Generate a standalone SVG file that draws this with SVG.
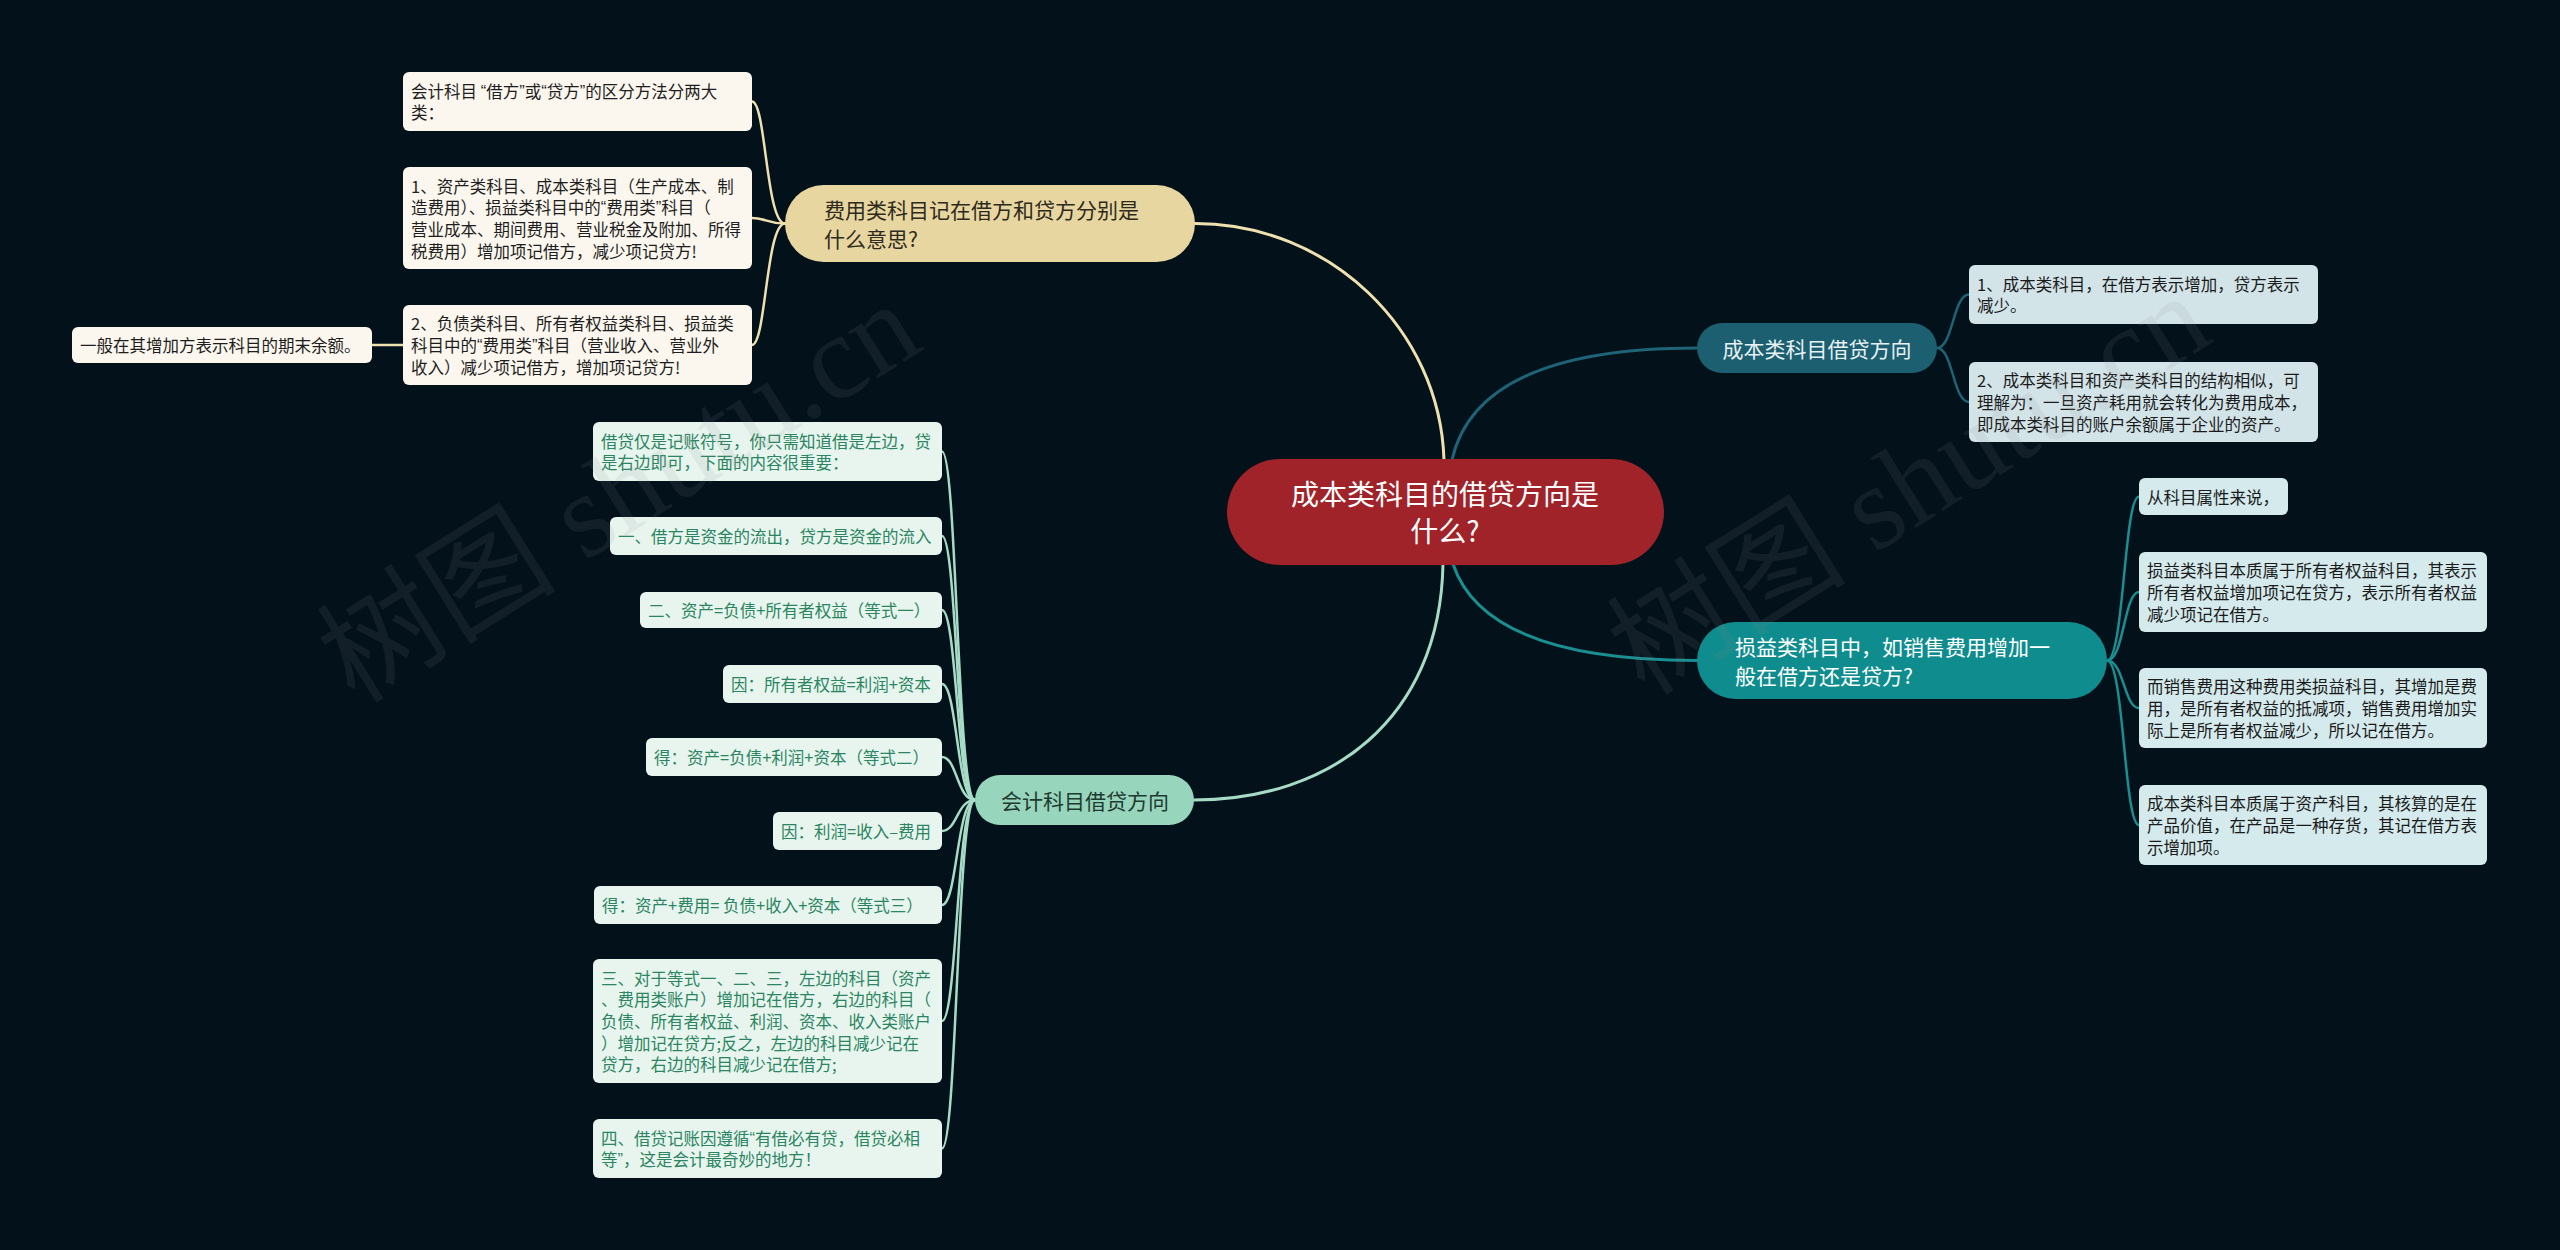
<svg xmlns="http://www.w3.org/2000/svg" width="2560" height="1250" viewBox="0 0 2560 1250">
<style>
text{font-family:"Noto Sans CJK SC","Noto Sans",sans-serif;dominant-baseline:central}
.q{font-family:"Liberation Sans",sans-serif}
.leaf{font-size:16.5px}
.cy{fill:#fbf7ee}.ty{fill:#1e1e1e}
.cg{fill:#e8f5ef}.tg{fill:#2b8561}
.cb{fill:#d3e4e9}.tb{fill:#1b1b1b}
.ct{fill:#d5eaec}.tt{fill:#1b1b1b}
.main{font-size:21px}
.lk{fill:none;stroke-linecap:round}
.wm{font-family:"Liberation Serif","Noto Sans CJK SC",serif;font-size:120px;fill:#8a8a8a;fill-opacity:0.12;dominant-baseline:auto}
</style>
<rect width="2560" height="1250" fill="#03111b"/>
<g id="connectors">
<path class="lk" d="M1444 460 C1440 330,1330 223.5,1195 223.5" stroke="#efe0b0" stroke-width="3"/>
<path class="lk" d="M1452 460 C1470 380,1560 348,1697 348" stroke="#1e6376" stroke-width="3"/>
<path class="lk" d="M1443 564 C1440 720,1330 800,1194 800" stroke="#a6dcc5" stroke-width="3"/>
<path class="lk" d="M1453 564 C1475 630,1560 660.5,1697 660.5" stroke="#1a8f91" stroke-width="3"/>
<g stroke="#efe0b0" stroke-width="2.5" class="lk">
<path d="M785 223.5 C766 223.5,766 101.5,752 101.5"/>
<path d="M785 223.5 C766 223.5,766 218,752 218"/>
<path d="M785 223.5 C766 223.5,766 345,752 345"/>
<path d="M403 345 L372 345"/>
</g>
<g stroke="#a6dcc5" stroke-width="2.5" class="lk">
<path d="M975 800 C957 800,957 451.5,942 451.5"/>
<path d="M975 800 C957 800,957 536,942 536"/>
<path d="M975 800 C957 800,957 610,942 610"/>
<path d="M975 800 C957 800,957 684,942 684"/>
<path d="M975 800 C957 800,957 757,942 757"/>
<path d="M975 800 C957 800,957 831,942 831"/>
<path d="M975 800 C957 800,957 905,942 905"/>
<path d="M975 800 C957 800,957 1021,942 1021"/>
<path d="M975 800 C957 800,957 1148.5,942 1148.5"/>
</g>
<g stroke="#1e6376" stroke-width="2.5" class="lk">
<path d="M1937 348 C1953 348,1953 294.5,1969 294.5"/>
<path d="M1937 348 C1953 348,1953 402,1969 402"/>
</g>
<g stroke="#1a8f91" stroke-width="2.5" class="lk">
<path d="M2107 660.5 C2124 660.5,2124 496.5,2139 496.5"/>
<path d="M2107 660.5 C2124 660.5,2124 592,2139 592"/>
<path d="M2107 660.5 C2124 660.5,2124 708,2139 708"/>
<path d="M2107 660.5 C2124 660.5,2124 825,2139 825"/>
</g>
</g>

<g id="root">
<rect x="1227" y="459" width="437" height="106" rx="53" fill="#a1232a"/>
<text x="1445" y="493" text-anchor="middle" font-size="28" fill="#ffffff">成本类科目的借贷方向是</text>
<text x="1445" y="530" text-anchor="middle" font-size="28" fill="#ffffff">什么?</text>
</g>

<g id="n-yellow">
<rect x="785" y="185" width="410" height="77" rx="38.5" fill="#e8d6a0"/>
<text class="main" x="824" y="209" fill="#2e2a20">费用类科目记在借方和贷方分别是</text>
<text class="main" x="824" y="238" fill="#2e2a20">什么意思?</text>
</g>
<g id="y1" class="leaf">
<rect class="cy" x="403" y="72" width="349" height="59" rx="6"/>
<text class="ty" x="411" y="90.6">会计科目 <tspan class="q">“</tspan>借方<tspan class="q">”</tspan>或<tspan class="q">“</tspan>贷方<tspan class="q">”</tspan>的区分方法分两大</text>
<text class="ty" x="411" y="112.4">类：</text>
</g>
<g id="y2" class="leaf">
<rect class="cy" x="403" y="167" width="349" height="102" rx="6"/>
<text class="ty" x="411" y="185.5">1、资产类科目、成本类科目（生产成本、制</text>
<text class="ty" x="411" y="207.2">造费用）、损益类科目中的<tspan class="q">“</tspan>费用类<tspan class="q">”</tspan>科目（</text>
<text class="ty" x="411" y="228.9">营业成本、期间费用、营业税金及附加、所得</text>
<text class="ty" x="411" y="250.6">税费用）增加项记借方，减少项记贷方!</text>
</g>
<g id="y3" class="leaf">
<rect class="cy" x="403" y="305" width="349" height="80" rx="6"/>
<text class="ty" x="411" y="323.3">2、负债类科目、所有者权益类科目、损益类</text>
<text class="ty" x="411" y="345">科目中的<tspan class="q">“</tspan>费用类<tspan class="q">”</tspan>科目（营业收入、营业外</text>
<text class="ty" x="411" y="366.7">收入）减少项记借方，增加项记贷方!</text>
</g>
<g id="y4" class="leaf">
<rect class="cy" x="72" y="327" width="300" height="36" rx="6"/>
<text class="ty" x="80" y="345">一般在其增加方表示科目的期末余额。</text>
</g>

<g id="n-green">
<rect x="975" y="775" width="219" height="50" rx="25" fill="#97d5bc"/>
<text class="main" x="1085" y="800" text-anchor="middle" fill="#1f3a30">会计科目借贷方向</text>
</g>
<g id="g1" class="leaf">
<rect class="cg" x="593" y="422" width="349" height="59" rx="6"/>
<text class="tg" x="601" y="440.6">借贷仅是记账符号，你只需知道借是左边，贷</text>
<text class="tg" x="601" y="462.4">是右边即可，下面的内容很重要：</text>
</g>
<g id="g2" class="leaf">
<rect class="cg" x="610" y="517" width="332" height="38" rx="6"/>
<text class="tg" x="618" y="536">一、借方是资金的流出，贷方是资金的流入</text>
</g>
<g id="g3" class="leaf">
<rect class="cg" x="640" y="592" width="302" height="36" rx="6"/>
<text class="tg" x="648" y="610">二、资产=负债+所有者权益（等式一）</text>
</g>
<g id="g4" class="leaf">
<rect class="cg" x="723" y="665" width="219" height="38" rx="6"/>
<text class="tg" x="731" y="684">因：所有者权益=利润+资本</text>
</g>
<g id="g5" class="leaf">
<rect class="cg" x="646" y="738" width="296" height="38" rx="6"/>
<text class="tg" x="654" y="757">得：资产=负债+利润+资本（等式二）</text>
</g>
<g id="g6" class="leaf">
<rect class="cg" x="773" y="812" width="169" height="38" rx="6"/>
<text class="tg" x="781" y="831">因：利润=收入–费用</text>
</g>
<g id="g7" class="leaf">
<rect class="cg" x="594" y="886" width="348" height="38" rx="6"/>
<text class="tg" x="602" y="905">得：资产+费用= 负债+收入+资本（等式三）</text>
</g>
<g id="g8" class="leaf">
<rect class="cg" x="593" y="959" width="349" height="124" rx="6"/>
<text class="tg" x="601" y="977.6">三、对于等式一、二、三，左边的科目（资产</text>
<text class="tg" x="601" y="999.3">、费用类账户）增加记在借方，右边的科目（</text>
<text class="tg" x="601" y="1021">负债、所有者权益、利润、资本、收入类账户</text>
<text class="tg" x="601" y="1042.7">）增加记在贷方;反之，左边的科目减少记在</text>
<text class="tg" x="601" y="1064.4">贷方，右边的科目减少记在借方;</text>
</g>
<g id="g9" class="leaf">
<rect class="cg" x="593" y="1119" width="349" height="59" rx="6"/>
<text class="tg" x="601" y="1137.6">四、借贷记账因遵循<tspan class="q">“</tspan>有借必有贷，借贷必相</text>
<text class="tg" x="601" y="1159.4">等<tspan class="q">”</tspan>，这是会计最奇妙的地方！</text>
</g>

<g id="n-blue">
<rect x="1697" y="323" width="240" height="50" rx="25" fill="#1b5f70"/>
<text class="main" x="1817" y="348" text-anchor="middle" fill="#e8f1f3">成本类科目借贷方向</text>
</g>
<g id="b1" class="leaf">
<rect class="cb" x="1969" y="265" width="349" height="59" rx="6"/>
<text class="tb" x="1977" y="283.6">1、成本类科目，在借方表示增加，贷方表示</text>
<text class="tb" x="1977" y="305.4">减少。</text>
</g>
<g id="b2" class="leaf">
<rect class="cb" x="1969" y="362" width="349" height="80" rx="6"/>
<text class="tb" x="1977" y="380.3">2、成本类科目和资产类科目的结构相似，可</text>
<text class="tb" x="1977" y="402">理解为：一旦资产耗用就会转化为费用成本，</text>
<text class="tb" x="1977" y="423.7">即成本类科目的账户余额属于企业的资产。</text>
</g>

<g id="n-teal">
<rect x="1697" y="622" width="410" height="77" rx="38.5" fill="#0f8d8e"/>
<text class="main" x="1735" y="646" fill="#ffffff">损益类科目中，如销售费用增加一</text>
<text class="main" x="1735" y="675" fill="#ffffff">般在借方还是贷方?</text>
</g>
<g id="t1" class="leaf">
<rect class="ct" x="2139" y="478" width="149" height="37" rx="6"/>
<text class="tt" x="2147" y="496.5">从科目属性来说，</text>
</g>
<g id="t2" class="leaf">
<rect class="ct" x="2139" y="552" width="348" height="80" rx="6"/>
<text class="tt" x="2147" y="570.3">损益类科目本质属于所有者权益科目，其表示</text>
<text class="tt" x="2147" y="592">所有者权益增加项记在贷方，表示所有者权益</text>
<text class="tt" x="2147" y="613.7">减少项记在借方。</text>
</g>
<g id="t3" class="leaf">
<rect class="ct" x="2139" y="668" width="348" height="80" rx="6"/>
<text class="tt" x="2147" y="686.3">而销售费用这种费用类损益科目，其增加是费</text>
<text class="tt" x="2147" y="708">用，是所有者权益的抵减项，销售费用增加实</text>
<text class="tt" x="2147" y="729.7">际上是所有者权益减少，所以记在借方。</text>
</g>
<g id="t4" class="leaf">
<rect class="ct" x="2139" y="785" width="348" height="80" rx="6"/>
<text class="tt" x="2147" y="803.3">成本类科目本质属于资产科目，其核算的是在</text>
<text class="tt" x="2147" y="825">产品价值，在产品是一种存货，其记在借方表</text>
<text class="tt" x="2147" y="846.7">示增加项。</text>
</g>

<g id="watermarks">
<text class="wm" x="355" y="705" transform="rotate(-32 355 705)">树图 shutu.cn</text>
<text class="wm" x="1645" y="697" transform="rotate(-32 1645 697)">树图 shutu.cn</text>
</g>
</svg>
